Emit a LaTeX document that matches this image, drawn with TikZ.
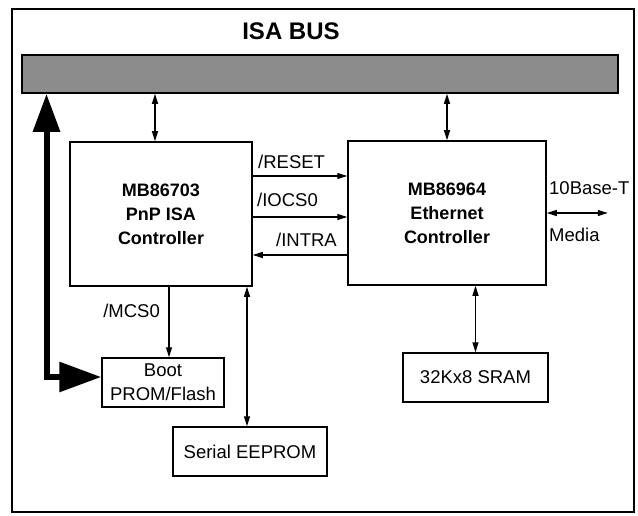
\documentclass[tikz,border=0pt]{standalone}
\usepackage{fontspec}
\setmainfont{Liberation Sans}
\usetikzlibrary{arrows.meta,calc}

\begin{document}
\begin{tikzpicture}[x=1pt, y=-1pt,
  box/.style={draw, line width=1.5pt, inner sep=0pt, align=center,
    font=\fontsize{18.5}{24}\selectfont},
  chip/.style={box, minimum height=144pt, font=\fontsize{18}{24}\selectfont\bfseries},
  mem/.style={box, minimum height=49pt},
  lbl/.style={inner sep=0pt, font=\fontsize{18.5}{21}\selectfont},
  sig/.style={line width=1.3pt, -{Triangle[length=10pt,width=6pt]}},
  bidir/.style={line width=1.3pt, {Triangle[length=10pt,width=6pt]}-{Triangle[length=10pt,width=6pt]}},
  fat/.style={line width=6pt, {Triangle[length=38pt,width=26pt]}-{Triangle[length=42pt,width=29pt]}},
]
\useasboundingbox (0,0) rectangle (638,516);

% Frame and bus
\draw[line width=1.3pt] (12,9) rectangle (634,512);
\node[inner sep=0pt, font=\fontsize{24}{24}\selectfont\bfseries] (title) at (291,31) {ISA BUS};
\node[draw, line width=1.6pt, fill=black!45, minimum width=596pt, minimum height=38pt,
  inner sep=0pt] (bus) at (320,74) {};

% Controllers
\node[chip, minimum width=182pt] (pnp) at (161,214) {MB86703\\PnP ISA\\Controller};
\node[chip, minimum width=198pt] (eth) at (447,213) {MB86964\\Ethernet\\Controller};

% Memories
\node[mem, minimum width=122pt] (boot) at (163,382.5) {Boot\\PROM/Flash};
\node[mem, minimum width=154pt] (eeprom) at (250,451.5) {Serial EEPROM};
\node[mem, minimum width=145pt] (sram) at (475.5,377.5) {32Kx8 SRAM};

% Bus connections
\coordinate (pnpport) at ($(pnp.north)+(-6,0)$);
\draw[bidir] (pnpport) -- (pnpport |- bus.south);
\draw[bidir] (eth.north) -- (eth.north |- bus.south);
\coordinate (bend) at (46.5,377);
\draw[fat] (bus.south -| bend) -- (bend) -- (bend -| boot.west);

% Signals between controllers
\coordinate (rst) at ($(pnp.east)+(0,-38)$);
\coordinate (iocs) at ($(pnp.east)+(0,3)$);
\coordinate (intr) at ($(pnp.east)+(0,41)$);
\draw[sig] (rst) -- (rst -| eth.west);
\draw[sig] (iocs) -- (iocs -| eth.west);
\draw[sig] (intr -| eth.west) -- (intr);
\node[lbl, anchor=base west] (rstlbl) at (258,169) {/RESET};
\node[lbl, anchor=base west] (iocslbl) at (257,207) {/IOCS0};
\node[lbl, anchor=base east] (intrlbl) at (337,247) {/INTRA};

% Memory connections
\coordinate (mcs) at ($(boot.north)+(6,0)$);
\draw[sig] (mcs |- pnp.south) -- (mcs);
\node[lbl, anchor=base east] (mcslbl) at (160,317) {/MCS0};
\coordinate (serial) at ($(eeprom.north)+(-3,0)$);
\draw[bidir] (serial |- pnp.south) -- (serial);
\draw[bidir] (eth.south -| sram.north) -- (sram.north);

% Media
\coordinate (media) at ($(eth.east)+(61,0)$);
\draw[bidir] (eth.east) -- (media);
\node[lbl, anchor=base west] (baselbl) at (549,195) {10Base-T};
\node[lbl, anchor=base west] (medialbl) at (549,242) {Media};

\end{tikzpicture}
\end{document}
